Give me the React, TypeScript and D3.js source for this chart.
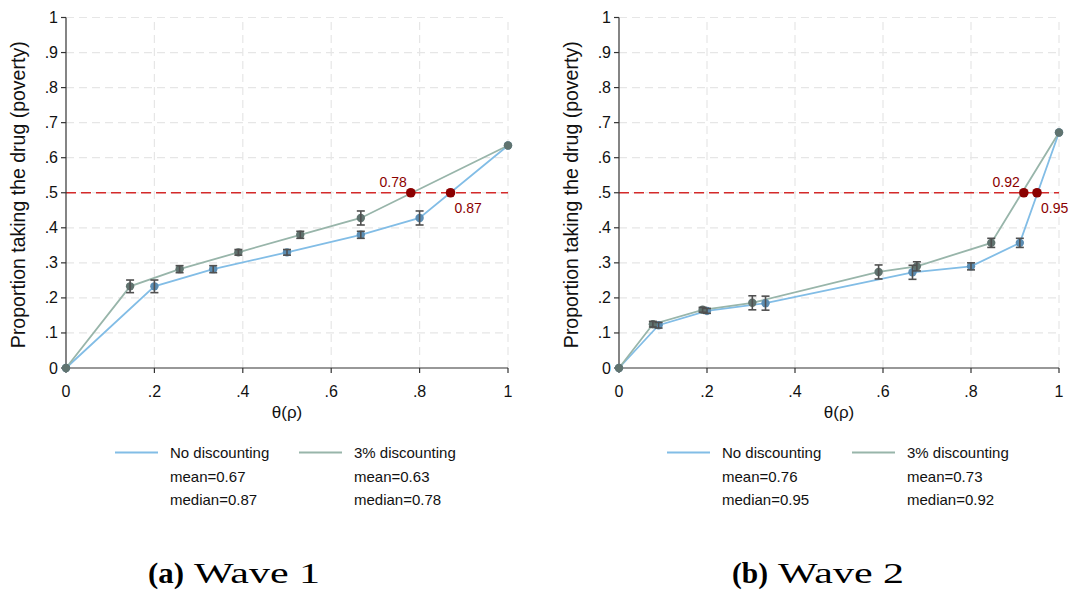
import React from "react";
import * as d3 from "d3";

// ---------- data ----------
const xTicks = [0, 0.2, 0.4, 0.6, 0.8, 1];
const xTickLabels = ["0", ".2", ".4", ".6", ".8", "1"];
const yTicks = [0, 0.1, 0.2, 0.3, 0.4, 0.5, 0.6, 0.7, 0.8, 0.9, 1];
const yTickLabels = ["0", ".1", ".2", ".3", ".4", ".5", ".6", ".7", ".8", ".9", "1"];

const wave1NoX = [0, 0.2, 0.333, 0.5, 0.667, 0.8, 1];
const wave1NoY = [0, 0.233, 0.282, 0.33, 0.38, 0.428, 0.635];
const wave1NoErr = [0, 0.018, 0.01, 0.008, 0.01, 0.02, 0];
const wave1DiscX = [0, 0.145, 0.257, 0.39, 0.53, 0.667, 1];
const wave1DiscY = [0, 0.233, 0.282, 0.33, 0.38, 0.428, 0.635];
const wave1DiscErr = [0, 0.018, 0.01, 0.008, 0.01, 0.02, 0];

const wave2NoX = [0, 0.09, 0.2, 0.333, 0.667, 0.8, 0.911, 1];
const wave2NoY = [0, 0.122, 0.163, 0.185, 0.273, 0.29, 0.357, 0.672];
const wave2NoErr = [0, 0.008, 0.007, 0.02, 0.02, 0.01, 0.013, 0];
const wave2DiscX = [0, 0.077, 0.19, 0.303, 0.59, 0.677, 0.846, 1];
const wave2DiscY = [0, 0.125, 0.166, 0.186, 0.274, 0.29, 0.357, 0.672];
const wave2DiscErr = [0, 0.008, 0.007, 0.02, 0.02, 0.013, 0.013, 0];

const threshold = 0.5;
const wave1Medians = { no: 0.87, disc: 0.78 };
const wave2Medians = { no: 0.95, disc: 0.92 };

const seriesNames = ["No discounting", "3% discounting"];
const wave1Stats = [["mean=0.67", "median=0.87"], ["mean=0.63", "median=0.78"]];
const wave2Stats = [["mean=0.76", "median=0.95"], ["mean=0.73", "median=0.92"]];
const captions = [["(a)", "Wave 1"], ["(b)", "Wave 2"]];
const yTitle = "Proportion taking the drug (poverty)";
const xTitle = "θ(ρ)";

// ---------- style ----------
const FONT = "'Liberation Sans', Arial, sans-serif";
const SERIF = "'Liberation Serif', 'Times New Roman', serif";
const BLUE_LINE = "#82bde6";
const GRAY_LINE = "#98b5aa";
const BLUE_MARK = "#5b8db3";
const GRAY_MARK = "#60736f";
const ERR = "#505050";
const RED = "#d42a2a";
const DARKRED = "#8b0000";

type Series = { x: number[]; y: number[]; e: number[] };

function Panel(props: {
  x0: number; x1: number; no: Series; disc: Series;
  med: { no: number; disc: number }; stats: string[][];
  legendX: number[]; caption: string[]; captionX: number;
}) {
  const { x0, x1, no, disc, med, stats, legendX, caption, captionX } = props;
  const xs = d3.scaleLinear().domain([0, 1]).range([x0, x1]);
  const ys = d3.scaleLinear().domain([0, 1]).range([368, 17.5]);
  const line = d3.line<[number, number]>().x((d) => xs(d[0])).y((d) => ys(d[1]));
  const pts = (s: Series) => s.x.map((v, i) => [v, s.y[i]] as [number, number]);
  const noPts = pts(no);
  const discPts = pts(disc);

  const errBars = (s: Series, key: string) =>
    s.x.map((v, i) =>
      s.e[i] > 0 ? (
        <g key={key + i} stroke={ERR} strokeWidth={1.6}>
          <line x1={xs(v)} x2={xs(v)} y1={ys(s.y[i] - s.e[i])} y2={ys(s.y[i] + s.e[i])} />
          <line x1={xs(v) - 4} x2={xs(v) + 4} y1={ys(s.y[i] - s.e[i])} y2={ys(s.y[i] - s.e[i])} />
          <line x1={xs(v) - 4} x2={xs(v) + 4} y1={ys(s.y[i] + s.e[i])} y2={ys(s.y[i] + s.e[i])} />
        </g>
      ) : null
    );

  const xMid = (x0 + x1) / 2;
  const yMid = (ys(0) + ys(1)) / 2;

  return (
    <g fontFamily={FONT}>
      {/* grid */}
      {xTicks.slice(1).map((t) => (
        <line key={"gx" + t} x1={xs(t)} x2={xs(t)} y1={ys(0)} y2={ys(1)} stroke="#e6e6e6" strokeWidth={1.2} strokeDasharray="8 5" />
      ))}
      {yTicks.slice(1).map((t) => (
        <line key={"gy" + t} x1={xs(0)} x2={xs(1)} y1={ys(t)} y2={ys(t)} stroke="#e6e6e6" strokeWidth={1.2} strokeDasharray="8 5" />
      ))}
      {/* threshold */}
      <line x1={xs(0)} x2={xs(1)} y1={ys(threshold)} y2={ys(threshold)} stroke={RED} strokeWidth={1.6} strokeDasharray="10 5" />
      {/* axes */}
      <line x1={xs(0)} x2={xs(0)} y1={ys(0)} y2={ys(1)} stroke="#333" strokeWidth={1.2} />
      <line x1={xs(0)} x2={xs(1)} y1={ys(0)} y2={ys(0)} stroke="#333" strokeWidth={1.2} />
      {yTicks.map((t, i) => (
        <g key={"yt" + t}>
          <line x1={xs(0) - 5} x2={xs(0)} y1={ys(t)} y2={ys(t)} stroke="#333" strokeWidth={1.2} />
          <text x={xs(0) - 8} y={ys(t) + 5.5} textAnchor="end" fontSize={16} fill="#111">{yTickLabels[i]}</text>
        </g>
      ))}
      {xTicks.map((t, i) => (
        <g key={"xt" + t}>
          <line x1={xs(t)} x2={xs(t)} y1={ys(0)} y2={ys(0) + 5} stroke="#333" strokeWidth={1.2} />
          <text x={xs(t)} y={ys(0) + 29} textAnchor="middle" fontSize={16} fill="#111">{xTickLabels[i]}</text>
        </g>
      ))}
      <text transform={`translate(${x0 - 41},${yMid + 2}) rotate(-90)`} textAnchor="middle" fontSize={19.5} fill="#111">{yTitle}</text>
      <text x={xMid} y={418} textAnchor="middle" fontSize={17} fill="#111">{xTitle}</text>

      {/* lines */}
      <path d={line(noPts) || ""} fill="none" stroke={BLUE_LINE} strokeWidth={1.8} />
      <path d={line(discPts) || ""} fill="none" stroke={GRAY_LINE} strokeWidth={1.8} />
      {/* markers */}
      {noPts.map((p, i) => (
        <circle key={"nm" + i} cx={xs(p[0])} cy={ys(p[1])} r={4.2} fill={BLUE_MARK} />
      ))}
      {discPts.map((p, i) => (
        <circle key={"dm" + i} cx={xs(p[0])} cy={ys(p[1])} r={4.2} fill={GRAY_MARK} />
      ))}
      {errBars(no, "ne")}
      {errBars(disc, "de")}

      {/* medians */}
      <circle cx={xs(med.disc)} cy={ys(threshold)} r={4.8} fill={DARKRED} />
      <circle cx={xs(med.no)} cy={ys(threshold)} r={4.8} fill={DARKRED} />
      <text x={xs(med.disc) - 4} y={ys(threshold) - 6} textAnchor="end" fontSize={14} fill={DARKRED}>{med.disc.toFixed(2)}</text>
      <text x={xs(med.no) + 4} y={ys(threshold) + 20} textAnchor="start" fontSize={14} fill={DARKRED}>{med.no.toFixed(2)}</text>

      {/* legend */}
      {[BLUE_LINE, GRAY_LINE].map((c, k) => (
        <g key={"lg" + k}>
          <line x1={legendX[k]} x2={legendX[k] + 43} y1={452.5} y2={452.5} stroke={c} strokeWidth={1.8} />
          <text x={legendX[k] + 55} y={458} fontSize={15} fill="#111">{seriesNames[k]}</text>
          <text x={legendX[k] + 55} y={481.5} fontSize={15} fill="#111">{stats[k][0]}</text>
          <text x={legendX[k] + 55} y={504.5} fontSize={15} fill="#111">{stats[k][1]}</text>
        </g>
      ))}

      {/* caption */}
      <text x={captionX} y={583} fontFamily={SERIF} fontSize={30} fontWeight="bold" fill="#000"
        textLength={36} lengthAdjust="spacingAndGlyphs">{caption[0]}</text>
      <text x={captionX + 46} y={583} fontFamily={SERIF} fontSize={30} fill="#000"
        textLength={126} lengthAdjust="spacingAndGlyphs">{caption[1]}</text>
    </g>
  );
}

export default function App() {
  return (
    <svg width={1075} height={590} style={{ position: "absolute", left: 0, top: 0, background: "#fff" }}>
      <rect width={1075} height={590} fill="#fff" />
      <Panel
        x0={66} x1={508}
        no={{ x: wave1NoX, y: wave1NoY, e: wave1NoErr }}
        disc={{ x: wave1DiscX, y: wave1DiscY, e: wave1DiscErr }}
        med={wave1Medians} stats={wave1Stats} legendX={[115, 299]}
        caption={captions[0]} captionX={148}
      />
      <Panel
        x0={619} x1={1059}
        no={{ x: wave2NoX, y: wave2NoY, e: wave2NoErr }}
        disc={{ x: wave2DiscX, y: wave2DiscY, e: wave2DiscErr }}
        med={wave2Medians} stats={wave2Stats} legendX={[667, 852]}
        caption={captions[1]} captionX={732}
      />
    </svg>
  );
}
